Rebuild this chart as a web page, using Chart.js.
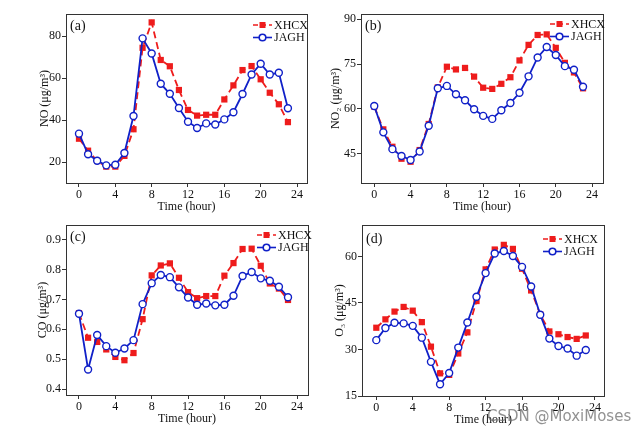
<!DOCTYPE html>
<html>
<head>
<meta charset="utf-8">
<script src="https://cdn.jsdelivr.net/npm/chart.js@4.4.1/dist/chart.umd.min.js"></script>
<style>
  html, body { margin: 0; padding: 0; background: #fff; }
  #wrap { position: relative; width: 636px; height: 432px; overflow: hidden; }
  #wrap canvas { position: absolute; left: 0; top: 0; }
  #mark { position: absolute; left: 487px; top: 407px; font: 15px "DejaVu Sans", sans-serif; color: rgba(110,110,110,0.75); }
</style>
</head>
<body>
<div id="wrap">
  <canvas id="cA" width="636" height="432"></canvas>
  <canvas id="cB" width="636" height="432"></canvas>
  <canvas id="cC" width="636" height="432"></canvas>
  <canvas id="cD" width="636" height="432"></canvas>
  <div id="mark">CSDN @MoxiMoses</div>
</div>
<script>
const hours = [0, 1, 2, 3, 4, 5, 6, 7, 8, 9, 10, 11, 12, 13, 14, 15, 16, 17, 18, 19, 20, 21, 22, 23];
const xTicks = [0, 4, 8, 12, 16, 20, 24];

const noXHCX = [31.1, 25.4, 20.5, 17.8, 17.8, 22.9, 35.6, 74.4, 86.5, 68.6, 65.6, 54.3, 44.8, 42.1, 42.5, 42.5, 49.8, 56.5, 63.8, 65.7, 59.4, 53.0, 47.5, 39.0];
const noJAGH = [33.5, 23.7, 20.6, 18.4, 18.7, 24.3, 41.9, 78.9, 71.7, 57.3, 52.5, 45.7, 39.2, 36.2, 38.4, 37.9, 40.3, 43.7, 52.4, 61.7, 66.8, 61.7, 62.5, 45.6];
const noTicks = [20, 40, 60, 80];

const no2XHCX = [60.8, 53.2, 47.4, 43.4, 42.4, 46.3, 55.0, 67.2, 74.1, 73.2, 73.7, 70.8, 67.1, 66.7, 68.4, 70.6, 76.2, 81.4, 84.7, 84.9, 80.4, 75.4, 72.2, 66.9];
const no2JAGH = [61.0, 52.2, 46.6, 44.3, 43.0, 45.8, 54.4, 66.9, 67.7, 64.9, 62.9, 59.9, 57.7, 56.7, 59.6, 62.0, 65.4, 70.9, 77.2, 80.7, 78.0, 74.3, 73.1, 67.4];
const no2Ticks = [45, 60, 75, 90];

const coXHCX = [0.654, 0.572, 0.558, 0.533, 0.508, 0.497, 0.521, 0.634, 0.780, 0.813, 0.820, 0.772, 0.724, 0.704, 0.711, 0.711, 0.779, 0.821, 0.868, 0.869, 0.812, 0.753, 0.736, 0.698];
const coJAGH = [0.652, 0.466, 0.581, 0.544, 0.522, 0.536, 0.564, 0.684, 0.754, 0.781, 0.774, 0.740, 0.706, 0.682, 0.686, 0.680, 0.682, 0.712, 0.778, 0.791, 0.770, 0.762, 0.742, 0.707];
const coTicks = [0.4, 0.5, 0.6, 0.7, 0.8, 0.9];

const o3XHCX = [37.0, 39.7, 42.2, 43.7, 42.5, 38.8, 30.9, 22.3, 21.8, 28.7, 35.5, 45.6, 55.8, 62.2, 63.7, 62.4, 56.0, 49.0, 41.3, 35.8, 34.9, 34.0, 33.4, 34.5];
const o3JAGH = [33.0, 36.9, 38.6, 38.4, 37.6, 33.8, 26.0, 18.8, 22.4, 30.6, 38.7, 47.0, 54.6, 60.9, 61.7, 60.1, 56.6, 50.3, 41.2, 33.5, 31.1, 30.3, 28.0, 29.8];
const o3Ticks = [15, 30, 45, 60];

const RED = '#ee1c1c';
const BLUE = '#1020c8';
const SERIF = '"Liberation Serif", "Times New Roman", serif';

function pairs(ys) {
  return hours.map((h, i) => ({ x: h, y: ys[i] }));
}

// frame, panel letter and the little line+marker legend
const panelDecor = {
  id: 'panelDecor',
  afterDraw(chart, args, opts) {
    const { ctx, chartArea: a } = chart;
    ctx.save();
    ctx.strokeStyle = '#333';
    ctx.lineWidth = 1;
    ctx.strokeRect(Math.round(a.left) + 0.5, Math.round(a.top) + 0.5, Math.round(a.right - a.left), Math.round(a.bottom - a.top));

    ctx.fillStyle = '#111';
    ctx.font = `14px ${SERIF}`;
    ctx.textBaseline = 'middle';
    ctx.fillText(opts.label, a.left + 4, a.top + opts.labelDy);

    const x0 = a.right - opts.legDx;
    const rows = [
      { y: a.top + opts.legDy, name: 'XHCX', color: RED, dash: [5, 3], mark: 'rect' },
      { y: a.top + opts.legDy + 12.5, name: 'JAGH', color: BLUE, dash: [], mark: 'circle' },
    ];
    rows.forEach((r) => {
      ctx.strokeStyle = r.color;
      ctx.lineWidth = 1.6;
      ctx.setLineDash(r.dash);
      ctx.beginPath();
      ctx.moveTo(x0, r.y);
      ctx.lineTo(x0 + 19, r.y);
      ctx.stroke();
      ctx.setLineDash([]);
      if (r.mark === 'rect') {
        ctx.fillStyle = RED;
        ctx.fillRect(x0 + 6.5, r.y - 3, 6, 6);
      } else {
        ctx.fillStyle = '#fff';
        ctx.beginPath();
        ctx.arc(x0 + 9.5, r.y, 3.3, 0, Math.PI * 2);
        ctx.fill();
        ctx.stroke();
      }
      ctx.fillStyle = '#111';
      ctx.font = `12px ${SERIF}`;
      ctx.fillText(r.name, x0 + 21, r.y + 0.5);
    });
    ctx.restore();
  },
};

function makePanel(id, p) {
  const xAxisH = 35;
  const padLeft = p.titleX - 11.2;
  return new Chart(document.getElementById(id), {
    type: 'line',
    data: {
      datasets: [
        {
          label: 'JAGH',
          data: pairs(p.jagh),
          borderColor: BLUE,
          borderWidth: 1.8,
          pointStyle: 'circle',
          pointRadius: 3.5,
          pointBorderWidth: 1.4,
          pointBackgroundColor: '#fff',
          pointBorderColor: BLUE,
          tension: 0,
        },
        {
          label: 'XHCX',
          data: pairs(p.xhcx),
          borderColor: RED,
          borderWidth: 1.8,
          borderDash: [7, 4],
          pointStyle: 'rect',
          pointRadius: 4.4,
          pointBorderWidth: 0,
          pointBackgroundColor: RED,
          pointBorderColor: RED,
          tension: 0,
        },
      ],
    },
    options: {
      responsive: false,
      animation: false,
      events: [],
      layout: {
        padding: {
          left: padLeft,
          top: p.box.t,
          right: 636 - p.box.r,
          bottom: 432 - p.box.b - xAxisH,
        },
      },
      plugins: {
        legend: { display: false },
        tooltip: { enabled: false },
        panelDecor: { label: p.label, labelDy: p.labelDy, legDx: p.legDx, legDy: p.legDy },
      },
      scales: {
        x: {
          type: 'linear',
          min: p.xmin,
          max: p.xmax,
          afterBuildTicks: (s) => { s.ticks = xTicks.map((v) => ({ value: v })); },
          afterFit: (s) => { s.height = xAxisH; },
          border: { display: false },
          grid: { drawOnChartArea: false, drawTicks: true, tickLength: 4, color: '#333' },
          ticks: { color: '#111', font: { family: SERIF, size: 12 }, padding: 1, maxRotation: 0, autoSkip: false },
          title: { display: true, text: 'Time (hour)', color: '#111', font: { family: SERIF, size: 12 }, padding: { top: 0, bottom: 4 } },
        },
        y: {
          type: 'linear',
          min: p.ymin,
          max: p.ymax,
          afterBuildTicks: (s) => { s.ticks = p.yTicks.map((v) => ({ value: v })); },
          afterFit: (s) => { s.width = p.box.l - padLeft; },
          border: { display: false },
          grid: { drawOnChartArea: false, drawTicks: true, tickLength: 4, color: '#333' },
          ticks: {
            color: '#111',
            font: { family: SERIF, size: 12 },
            padding: 1,
            autoSkip: false,
            callback: (v) => (p.dec ? Number(v).toFixed(p.dec) : String(v)),
          },
          title: { display: true, text: p.yTitle, color: '#111', font: { family: SERIF, size: 12 }, padding: { top: 4, bottom: 0 } },
        },
      },
    },
    plugins: [panelDecor],
  });
}

makePanel('cA', {
  box: { l: 66, t: 14, r: 307, b: 183 }, titleX: 45,
  xmin: -1.43, xmax: 25.1, ymin: 10, ymax: 90.5, yTicks: noTicks,
  xhcx: noXHCX, jagh: noJAGH, yTitle: 'NO (μg/m³)', label: '(a)', labelDy: 12,
  legDx: 54, legDy: 11,
});
makePanel('cB', {
  box: { l: 361, t: 14, r: 603, b: 183 }, titleX: 336,
  xmin: -1.46, xmax: 25.2, ymin: 35.3, ymax: 91.7, yTicks: no2Ticks,
  xhcx: no2XHCX, jagh: no2JAGH, yTitle: 'NO₂ (μg/m³)', label: '(b)', labelDy: 12,
  legDx: 53, legDy: 10,
});
makePanel('cC', {
  box: { l: 66, t: 225, r: 308, b: 395 }, titleX: 43,
  xmin: -1.43, xmax: 25.2, ymin: 0.381, ymax: 0.948, yTicks: coTicks, dec: 1,
  xhcx: coXHCX, jagh: coJAGH, yTitle: 'CO (μg/m³)', label: '(c)', labelDy: 12,
  legDx: 51, legDy: 10,
});
makePanel('cD', {
  box: { l: 362, t: 225, r: 604, b: 396 }, titleX: 340,
  xmin: -1.57, xmax: 25.0, ymin: 15, ymax: 70.1, yTicks: o3Ticks,
  xhcx: o3XHCX, jagh: o3JAGH, yTitle: 'O₃ (μg/m³)', label: '(d)', labelDy: 14,
  legDx: 61, legDy: 14,
});
</script>
</body>
</html>
